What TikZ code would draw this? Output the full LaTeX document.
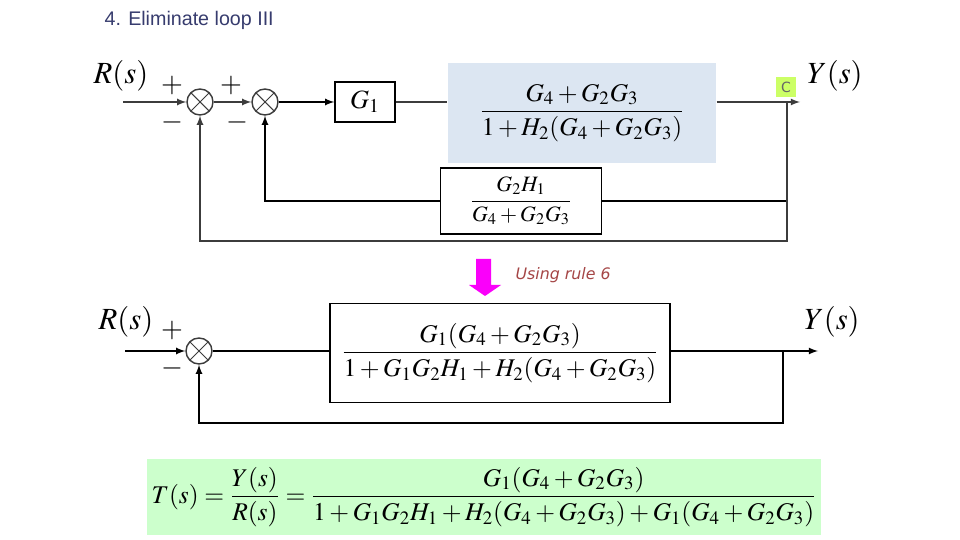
\documentclass[tikz,border=0pt]{standalone}
\usepackage{amsmath}
\usepackage{mathptmx}
\usepackage[no-math]{fontspec}
\setmainfont{Liberation Serif}
\newfontfamily\titlefont{Liberation Sans}
\newfontfamily\notefont{DejaVu Sans}
\usetikzlibrary{arrows}
\definecolor{titleblue}{RGB}{55,60,110}
\definecolor{boxblue}{RGB}{220,230,242}
\definecolor{eqgreen}{RGB}{204,255,204}
\definecolor{cgreen}{RGB}{204,255,102}
\definecolor{rulered}{RGB}{165,70,70}
\definecolor{wire}{RGB}{60,60,60}
\definecolor{pinkarrow}{RGB}{250,0,250}

\begin{document}
\begin{tikzpicture}[x=0.02cm,y=-0.02cm,line width=0.8pt,>=latex,
  sumjn/.style={circle,draw=wire,minimum size=0.52cm,inner sep=0pt,
    path picture={\draw[wire,line width=0.6pt] (path picture bounding box.north west) -- (path picture bounding box.south east)
      (path picture bounding box.north east) -- (path picture bounding box.south west);}},
  blk/.style={draw,inner sep=0pt,font=\fontsize{14.5}{17}\selectfont},
  sig/.style={font=\fontsize{17.5}{20}\selectfont},
  sgn/.style={font=\fontsize{16}{18}\selectfont}]
\path[fill=white] (0,0) rectangle (960,540);
\useasboundingbox (0,0) rectangle (960,540);

\node[anchor=west,font=\titlefont\fontsize{11.2}{13}\selectfont,text=titleblue] (title) at (98,20) {4. Eliminate loop III};

\node[sig] (r1) at (121,76) {$R(s)$};
\node[sgn] (p1) at (172,85) {$+$};
\node[sgn] (p2) at (231,85) {$+$};
\node[sgn] (m1) at (172,122) {$-$};
\node[sgn] (m2) at (237,122) {$-$};
\coordinate (rin) at (123,102);
\node[sumjn] (s1) at (200,102) {};
\node[sumjn] (s2) at (265,102) {};
\node[blk,minimum width=1.2cm,minimum height=0.8cm,font=\fontsize{15}{17}\selectfont] (g1) at (365,102) {$G_1$};
\node[blk,draw=none,fill=boxblue,minimum width=5.36cm,minimum height=2cm] (gf) at (582,113) {$\dfrac{G_4+G_2G_3}{1+H_2(G_4+G_2G_3)}$};
\node[blk,minimum width=3.22cm,minimum height=1.32cm,font=\fontsize{12.5}{15}\selectfont] (hf) at (521,201) {$\dfrac{G_2H_1}{G_4+G_2G_3}$};
\coordinate (c) at (787,102);
\coordinate (yend) at (800,102);
\coordinate (lo1) at (787,241);
\node[fill=cgreen,minimum size=0.4cm,inner sep=0pt,font=\notefont\fontsize{8}{9}\selectfont,text=black!60] (clab) at (786,87) {C};
\node[sig] (y1) at (835,76) {$Y(s)$};

\draw[->,wire] (rin) -- (s1);
\draw[->,wire] (s1) -- (s2);
\draw[->] (s2) -- (g1);
\draw[wire] (g1) -- (g1 -| gf.west);
\draw[wire] (gf.east |- c) -- (c);
\draw[->,wire] (c) -- (yend);
\draw (c) |- (hf);
\draw[->] (hf) -| (s2);
\draw[->,wire] (c) -- (lo1) -| (s1);

\fill[pinkarrow] (476,259) -- (491,259) -- (491,285) -- (501,285) -- (485,296) -- (469,285) -- (476,285) -- cycle;
\node[anchor=west,font=\notefont\itshape\fontsize{9}{11}\selectfont,text=rulered] (rule) at (509,275) {Using rule 6};

\node[sig] (r2) at (126,322) {$R(s)$};
\node[sgn] (p3) at (172,330) {$+$};
\node[sgn] (m3) at (172,368) {$-$};
\coordinate (rin2) at (125,351);
\node[sumjn] (s3) at (199,351) {};
\node[blk,minimum width=6.8cm,minimum height=1.98cm] (gt) at (500,353) {$\dfrac{G_1(G_4+G_2G_3)}{1+G_1G_2H_1+H_2(G_4+G_2G_3)}$};
\coordinate (c2) at (783,351);
\coordinate (yend2) at (818,351);
\coordinate (lo2) at (783,423);
\node[sig] (y2) at (832,322) {$Y(s)$};

\draw[->] (rin2) -- (s3);
\draw (s3) -- (s3 -| gt.west);
\draw (gt.east |- c2) -- (c2);
\draw[->] (c2) -- (yend2);
\draw[->] (c2) -- (lo2) -| (s3);

\node[fill=eqgreen,minimum width=13.48cm,minimum height=1.52cm,inner sep=0pt,font=\fontsize{14.5}{17}\selectfont] (eq) at (484,497)
  {$T(s)=\dfrac{Y(s)}{R(s)}=\dfrac{G_1(G_4+G_2G_3)}{1+G_1G_2H_1+H_2(G_4+G_2G_3)+G_1(G_4+G_2G_3)}$};
\end{tikzpicture}
\end{document}
